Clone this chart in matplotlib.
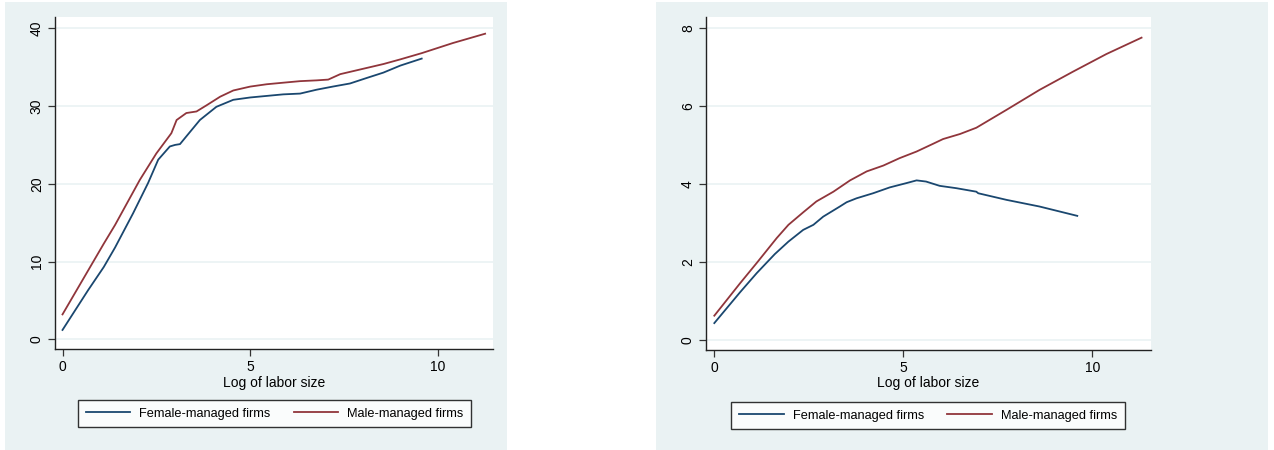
import matplotlib.pyplot as plt
from matplotlib.patches import Rectangle

plt.rcParams['font.family'] = ['Liberation Sans', 'DejaVu Sans']

# left panel: output vs log labor size
left_female_x = [0, 0.68, 1.1, 1.4, 1.88, 2.28, 2.55, 2.86, 3.0, 3.13, 3.3, 3.66, 4.1, 4.55, 5.0,
                 5.44, 5.88, 6.33, 6.77, 7.2, 7.66, 8.1, 8.55, 9.0, 9.57]
left_female_y = [1.2, 6.3, 9.3, 11.8, 16.2, 20.1, 23.1, 24.8, 25.0, 25.1, 26.1, 28.2, 29.9, 30.8, 31.1,
                 31.3, 31.5, 31.6, 32.1, 32.5, 32.9, 33.6, 34.3, 35.2, 36.1]
left_male_x = [0, 1.1, 1.4, 2.06, 2.5, 2.9, 2.95, 3.04, 3.3, 3.57, 3.84, 4.2, 4.55, 5.0, 5.44,
               5.88, 6.33, 6.77, 7.08, 7.4, 7.93, 8.55, 9.0, 9.57, 10.4, 11.26]
left_male_y = [3.2, 12.3, 14.7, 20.5, 23.9, 26.5, 27.1, 28.2, 29.1, 29.3, 30.1, 31.2, 32.0, 32.5, 32.8,
               33.0, 33.2, 33.3, 33.4, 34.1, 34.7, 35.4, 36.0, 36.8, 38.1, 39.3]

# right panel
right_female_x = [0, 0.68, 1.12, 1.6, 1.96, 2.35, 2.62, 2.88, 3.32, 3.5, 3.76, 4.2, 4.64, 5.08,
                  5.35, 5.6, 5.96, 6.4, 6.93, 6.98, 7.73, 8.6, 9.6]
right_female_y = [0.43, 1.22, 1.71, 2.2, 2.52, 2.82, 2.95, 3.16, 3.42, 3.53, 3.63, 3.76, 3.91, 4.02,
                  4.09, 4.06, 3.95, 3.89, 3.80, 3.76, 3.59, 3.42, 3.18]
right_male_x = [0, 0.68, 1.12, 1.65, 1.96, 2.35, 2.7, 3.15, 3.59, 4.03, 4.47, 4.9, 5.35, 5.79,
                6.05, 6.5, 6.93, 7.73, 8.6, 9.49, 10.37, 11.3]
right_male_y = [0.62, 1.45, 1.97, 2.61, 2.95, 3.27, 3.55, 3.80, 4.09, 4.32, 4.47, 4.66, 4.83, 5.03,
                5.15, 5.28, 5.44, 5.90, 6.41, 6.88, 7.33, 7.75]

labels = ['Female-managed firms', 'Male-managed firms']
x_label = 'Log of labor size'

navy = '#1a476f'
maroon = '#90353b'
bg = '#eaf2f3'
W, H = 1274, 450

fig = plt.figure(figsize=(W / 100, H / 100), dpi=100, facecolor='white')


def px_rect(x0, x1, top, bottom):
    return [x0 / W, (H - bottom) / H, (x1 - x0) / W, (bottom - top) / H]


def panel(bg_box, ax_box, leg_center, fx, fy, mx, my, xlim, ylim, yticks):
    r = px_rect(*bg_box)
    fig.patches.append(Rectangle((r[0], r[1]), r[2], r[3], transform=fig.transFigure,
                                 facecolor=bg, edgecolor='none', zorder=-10))
    ax = fig.add_axes(px_rect(*ax_box))
    ax.set_zorder(1)
    ax.set_facecolor('white')
    ax.plot(fx, fy, color=navy, lw=1.3, label=labels[0])
    ax.plot(mx, my, color=maroon, lw=1.3, label=labels[1])
    ax.set_xlim(xlim)
    ax.set_ylim(ylim)
    ax.set_xticks([0, 5, 10])
    ax.set_yticks(yticks)
    ax.set_yticklabels([str(t) for t in yticks], rotation=90, va='center')
    ax.grid(axis='y', color='#eaf2f3', lw=1.2)
    ax.set_axisbelow(True)
    for s in ['top', 'right']:
        ax.spines[s].set_visible(False)
    for s in ['left', 'bottom']:
        ax.spines[s].set_color('#222222')
        ax.spines[s].set_linewidth(1.0)
    ax.tick_params(labelsize=10, length=5, width=0.9, color='#333333', pad=3)
    ax.set_xlabel(x_label, fontsize=10, labelpad=1)
    handles, labs = ax.get_legend_handles_labels()
    leg = fig.legend(handles, labs, loc='center',
                     bbox_to_anchor=(leg_center[0] / W, 1 - leg_center[1] / H),
                     ncol=2, fontsize=9.2, frameon=True, fancybox=False,
                     edgecolor='black', handlelength=3.5, handletextpad=0.7,
                     borderpad=0.6, columnspacing=1.8, borderaxespad=0)
    leg.get_frame().set_linewidth(1.0)
    return ax


panel((5, 507, 2, 450), (55, 493, 17, 349), (274.5, 413.5),
      left_female_x, left_female_y, left_male_x, left_male_y,
      (-0.2, 11.47), (-1.25, 41.45), [0, 10, 20, 30, 40])
panel((656, 1268, 2, 450), (706, 1151, 17, 350), (928, 415.5),
      right_female_x, right_female_y, right_male_x, right_male_y,
      (-0.22, 11.55), (-0.26, 8.28), [0, 2, 4, 6, 8])

fig.savefig('out.png', dpi=100, facecolor='white')
